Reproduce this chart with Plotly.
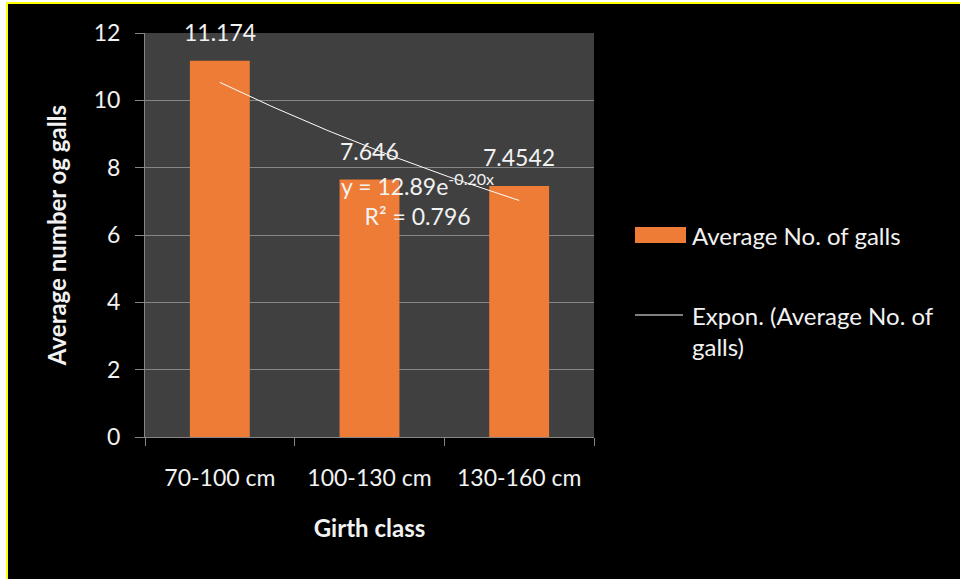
import numpy as np
import plotly.graph_objects as go

categories = ["70-100 cm", "100-130 cm", "130-160 cm"]
avg_galls = [11.174, 7.646, 7.4542]
value_labels = ["11.174", "7.646", "7.4542"]
y_ticks = [0, 2, 4, 6, 8, 10, 12]

series_name = "Average No. of galls"
trend_name_lines = ["Expon. (Average No. of", "galls)"]
x_title = "Girth class"
y_title = "Average number og galls"

# trendline equation as printed on the chart
eq_a = 12.89
eq_b = -0.20
eq_r2 = 0.796

# exponential trendline fitted from the data (Excel style, x = 1..n)
xi = np.arange(1, len(avg_galls) + 1)
ln_y = np.log(avg_galls)
b, ln_a = np.polyfit(xi, ln_y, 1)
a = np.exp(ln_a)
xt = np.linspace(1, len(avg_galls), 60)
yt = a * np.exp(b * xt)

FONT = "Lato, 'Open Sans', sans-serif"
TXT = "#f2f2f2"
GRID = "#858585"
BAR = "#ee7c37"

# pixel layout helpers
L, R, T, B = 145, 594, 33, 437
W, H = R - L, B - T
def px(x):
    return (x - L) / W
def py(y):
    return (B - y) / H

fig = go.Figure()
fig.add_trace(go.Bar(
    x=categories, y=avg_galls, width=0.4,
    marker=dict(color=BAR, line=dict(width=0)),
    name=series_name, showlegend=False,
))
fig.add_trace(go.Scatter(
    x=xt, y=yt, mode="lines", xaxis="x2",
    line=dict(color="white", width=1),
    showlegend=False, hoverinfo="skip",
))

annotations = []
for c, v, lab in zip(categories, avg_galls, value_labels):
    annotations.append(dict(x=c, y=v, xref="x", yref="y", text=lab,
                            showarrow=False, yanchor="bottom", yshift=13,
                            font=dict(family=FONT, size=23, color=TXT)))

eq = f"y = {eq_a:.2f}e<sup>{eq_b:.2f}x</sup><br>R² = {eq_r2:.3f}"
annotations.append(dict(x=px(417), y=py(199), xref="paper", yref="paper",
                        text=eq, showarrow=False, align="center",
                        xanchor="center", yanchor="middle",
                        font=dict(family=FONT, size=23, color=TXT)))

# custom legend
annotations.append(dict(x=px(690), y=py(235), xref="paper", yref="paper",
                        text=series_name, showarrow=False, xanchor="left",
                        yanchor="middle", font=dict(family=FONT, size=24, color=TXT)))
annotations.append(dict(x=px(690), y=py(331), xref="paper", yref="paper",
                        text="<br>".join(trend_name_lines), showarrow=False,
                        xanchor="left", yanchor="middle", align="left",
                        font=dict(family=FONT, size=24, color=TXT)))

shapes = [
    # white margin strips and yellow frame
    dict(type="rect", xref="paper", yref="paper", x0=px(-5), x1=px(6),
         y0=py(590), y1=py(-5), fillcolor="white", line=dict(width=0), layer="below"),
    dict(type="rect", xref="paper", yref="paper", x0=px(-5), x1=px(970),
         y0=py(2), y1=py(-5), fillcolor="white", line=dict(width=0), layer="below"),
    dict(type="line", xref="paper", yref="paper", x0=px(7), x1=px(7),
         y0=py(2), y1=py(590), line=dict(color="#ffff00", width=2)),
    dict(type="line", xref="paper", yref="paper", x0=px(6), x1=px(970),
         y0=py(3), y1=py(3), line=dict(color="#ffff00", width=2)),
    # legend swatches
    dict(type="rect", xref="paper", yref="paper", x0=px(635), x1=px(686),
         y0=py(243), y1=py(227), fillcolor=BAR, line=dict(width=0)),
    dict(type="line", xref="paper", yref="paper", x0=px(635), x1=px(683),
         y0=py(315), y1=py(315), line=dict(color="white", width=1)),
]

fig.update_layout(
    width=960, height=579,
    margin=dict(l=L, r=960 - R, t=T, b=579 - B),
    paper_bgcolor="black", plot_bgcolor="#404040",
    font=dict(family=FONT, color=TXT),
    bargap=0.6,
    xaxis=dict(
        type="category", showgrid=False, showline=True, linecolor=GRID,
        ticks="outside", tickson="boundaries", ticklen=8, tickcolor=GRID,
        ticklabelstandoff=20,
        tickfont=dict(family=FONT, size=23, color=TXT),
        title=dict(text=f"<b>{x_title}</b>", standoff=30,
                   font=dict(family=FONT, size=24, color=TXT)),
    ),
    xaxis2=dict(overlaying="x", range=[0.5, len(categories) + 0.5],
                visible=False, fixedrange=True),
    yaxis=dict(
        range=[0, 12], tickvals=y_ticks, showgrid=True, gridcolor=GRID,
        gridwidth=1, showline=True, linecolor=GRID, zeroline=False,
        ticks="outside", ticklen=9, tickcolor=GRID,
        ticklabelstandoff=10,
        tickfont=dict(family=FONT, size=23, color=TXT),
        title=dict(text=f"<b>{y_title}</b>", standoff=20,
                   font=dict(family=FONT, size=24, color=TXT)),
    ),
    annotations=annotations,
    shapes=shapes,
)

fig.write_html("out.html", config={"displayModeBar": False},
               post_script="document.body.style.margin='0px';document.body.style.overflow='hidden';")
